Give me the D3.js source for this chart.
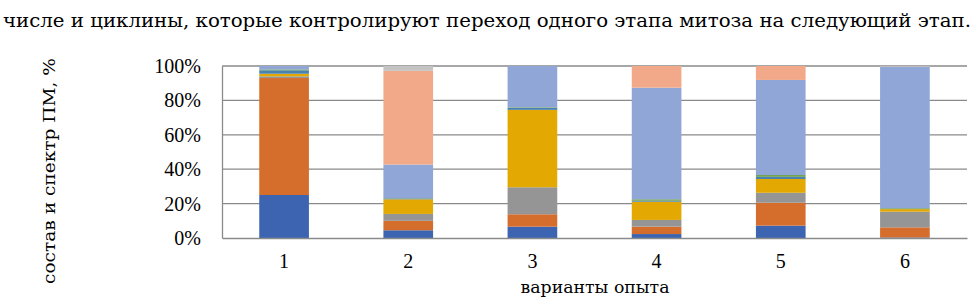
<!DOCTYPE html>
<html><head><meta charset="utf-8">
<script src="https://cdn.jsdelivr.net/npm/d3@7"></script>
<style>body{margin:0;background:#fff}svg{display:block}</style>
</head><body>
<script>
const categories = ["1","2","3","4","5","6"];
const seriesNames = ["s1","s2","s3","s4","s5","s6","s7","s8","s9"];
const s1 = [25, 4.5, 6.6, 2.3, 7.2, 0.3];
const s2 = [68, 5.5, 7.2, 4.3, 13.3, 5.9];
const s3 = [1, 4, 15.7, 3.9, 5.8, 9.1];
const s4 = [1.5, 8.5, 45, 10.6, 8, 1.5];
const s5 = [2, 0.5, 1.2, 0.6, 1.3, 0.3];
const s6 = [0.5, 0.2, 0.3, 0.8, 1, 0.3];
const s7 = [2, 19.5, 24, 64.9, 55.3, 82.1];
const s8 = [0, 54.5, 0, 12.6, 8.1, 0];
const s9 = [0, 2.8, 0, 0, 0, 0.5];
const yTicks = [0, 0.2, 0.4, 0.6, 0.8, 1];
const colors = ["#3d64b1","#d56d2c","#959595","#e3a902","#4a82b0","#6a9e48","#8fa6d6","#f1a98a","#c3c3c3"];
const topText = "числе и циклины, которые контролируют переход одного этапа митоза на следующий этап.";
const yTitle = "состав и спектр ПМ, %";
const xTitle = "варианты опыта";

const W = 977, H = 301;
const svg = d3.select("body").append("svg").attr("width", W).attr("height", H);
const font = "'DejaVu Serif','Liberation Serif',serif";
const numFont = "'Liberation Serif','DejaVu Serif',serif";

svg.append("text").attr("x", 3).attr("y", 27).attr("font-family", font).attr("font-size", 18)
  .attr("textLength", 968).attr("lengthAdjust", "spacingAndGlyphs").text(topText);

const allSeries = [s1,s2,s3,s4,s5,s6,s7,s8,s9];
const rows = categories.map((c, i) => {
  const r = {cat: c};
  const tot = d3.sum(allSeries, s => s[i]);
  seriesNames.forEach((n, k) => r[n] = allSeries[k][i] / tot);
  return r;
});
const stack = d3.stack().keys(seriesNames)(rows);

const x = d3.scaleBand().domain(categories).range([222, 967]).paddingInner(0.6).paddingOuter(0.3);
const y = d3.scaleLinear().domain([0, 1]).range([238, 66]);

// gridlines
svg.append("g").selectAll("line").data(yTicks.slice(1)).join("line")
  .attr("x1", 222).attr("x2", 967).attr("y1", d => y(d)).attr("y2", d => y(d))
  .attr("stroke", "#8a8a8a").attr("stroke-width", 1.3);

// bars
svg.append("g").selectAll("g").data(stack).join("g")
  .attr("fill", (d, i) => colors[i])
  .selectAll("rect").data(d => d).join("rect")
  .attr("x", d => x(d.data.cat)).attr("width", x.bandwidth())
  .attr("y", d => y(d[1])).attr("height", d => Math.max(0, y(d[0]) - y(d[1])));

// axes
const yAxis = d3.axisLeft(y).tickValues(yTicks).tickFormat(d3.format(".0%")).tickSize(0).tickPadding(21);
const gy = svg.append("g").attr("transform", "translate(222,0)").call(yAxis);
gy.select(".domain").attr("stroke", "#8a8a8a").attr("stroke-width", 1.3);
gy.selectAll("text").attr("font-family", numFont).attr("font-size", 20).attr("fill", "#000");

const xAxis = d3.axisBottom(x).tickSize(0).tickPadding(16);
const gx = svg.append("g").attr("transform", "translate(0,238)").call(xAxis);
gx.select(".domain").attr("stroke", "#8a8a8a").attr("stroke-width", 1.3);
gx.selectAll("text").attr("font-family", numFont).attr("font-size", 20).attr("fill", "#000");

svg.append("text").attr("x", 595).attr("y", 293).attr("text-anchor", "middle")
  .attr("font-family", font).attr("font-size", 17).attr("textLength", 149).attr("lengthAdjust", "spacingAndGlyphs").text(xTitle);
svg.append("text").attr("transform", "translate(55,171) rotate(-90)").attr("text-anchor", "middle")
  .attr("font-family", font).attr("font-size", 17).attr("textLength", 226).attr("lengthAdjust", "spacingAndGlyphs").text(yTitle);
</script>
</body></html>
